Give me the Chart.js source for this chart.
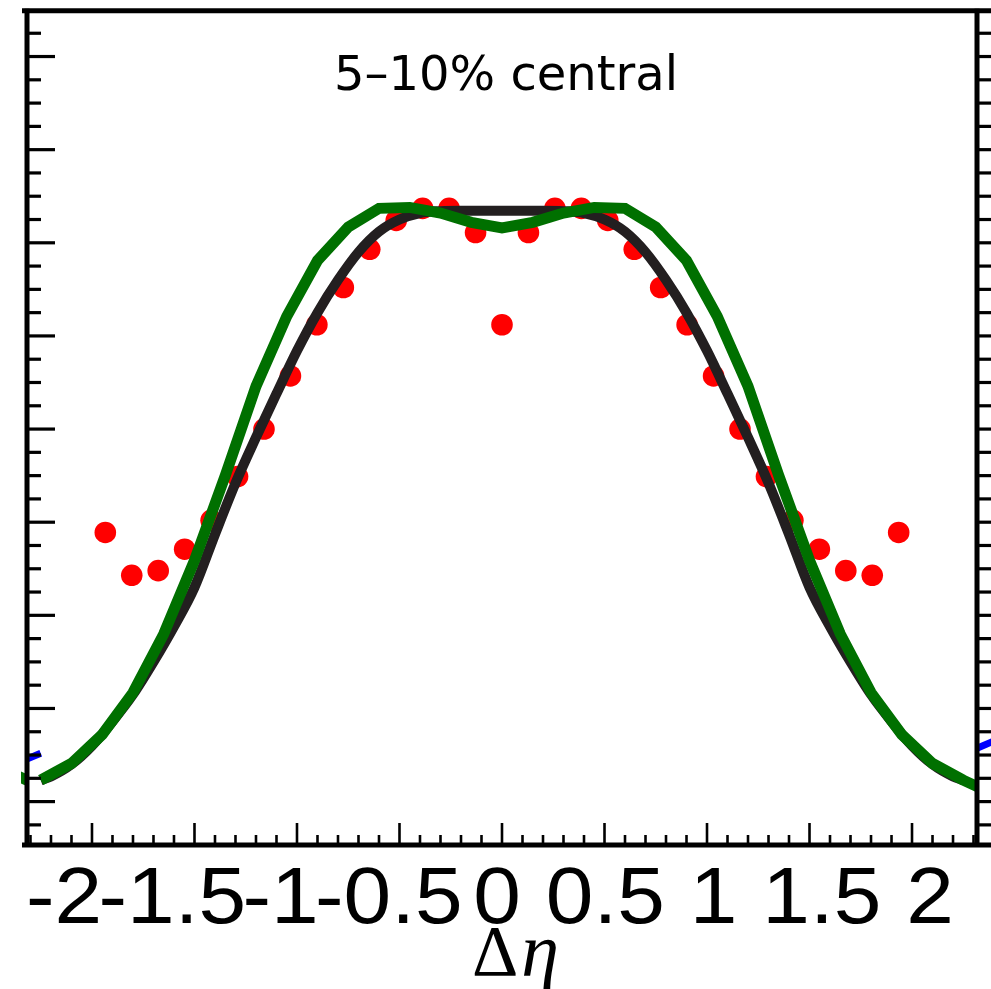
<!DOCTYPE html>
<html>
<head>
<meta charset="utf-8">
<script src="https://cdn.jsdelivr.net/npm/chart.js@4.4.1/dist/chart.umd.min.js"></script>
<style>
  body { margin: 0; background: #fff; }
  canvas { display: block; }
</style>
</head>
<body>
<canvas id="chart" width="991" height="989"></canvas>
<script>
// data points (red dots), 31 delta-eta bins
const dataEta = [-1.935, -1.806, -1.677, -1.548, -1.419, -1.290, -1.161, -1.032, -0.903, -0.774, -0.645, -0.516, -0.387, -0.258, -0.129, 0,
                 0.129, 0.258, 0.387, 0.516, 0.645, 0.774, 0.903, 1.032, 1.161, 1.290, 1.419, 1.548, 1.677, 1.806, 1.935];
const dataVals = [2.89, 2.43, 2.48, 2.71, 3.02, 3.49, 4.00, 4.57, 5.12, 5.52, 5.93, 6.24, 6.37, 6.37, 6.11, 5.12,
                  6.11, 6.37, 6.37, 6.24, 5.93, 5.52, 5.12, 4.57, 4.00, 3.49, 3.02, 2.71, 2.48, 2.43, 2.89];

// smooth black curve
const blackEta = [-2.25, -2.2, -2.1, -2.0, -1.9, -1.8, -1.7, -1.6, -1.5, -1.4, -1.3, -1.2, -1.1, -1.0, -0.9, -0.8, -0.7, -0.6, -0.5, -0.4, -0.3, -0.2, -0.1, 0,
                  0.1, 0.2, 0.3, 0.4, 0.5, 0.6, 0.7, 0.8, 0.9, 1.0, 1.1, 1.2, 1.3, 1.4, 1.5, 1.6, 1.7, 1.8, 1.9, 2.0, 2.1, 2.2, 2.25];
const blackVals = [0.23, 0.27, 0.40, 0.60, 0.86, 1.15, 1.50, 1.88, 2.30, 2.87, 3.42, 3.91, 4.38, 4.84, 5.25, 5.60, 5.90, 6.12, 6.25, 6.32, 6.34, 6.345, 6.345, 6.345,
                   6.345, 6.345, 6.34, 6.32, 6.25, 6.12, 5.90, 5.60, 5.25, 4.84, 4.38, 3.91, 3.42, 2.87, 2.30, 1.88, 1.50, 1.15, 0.86, 0.60, 0.40, 0.27, 0.23];

// green model curve
const greenEta = [-2.25, -2.1, -1.95, -1.8, -1.65, -1.5, -1.35, -1.2, -1.05, -0.9, -0.75, -0.6, -0.45, -0.3, -0.15, 0,
                  0.15, 0.3, 0.45, 0.6, 0.75, 0.9, 1.05, 1.2, 1.35, 1.5, 1.65, 1.8, 1.95, 2.1, 2.25, 2.4];
const greenVals = [0.23, 0.41, 0.72, 1.17, 1.80, 2.59, 3.50, 4.46, 5.21, 5.81, 6.17, 6.37, 6.38, 6.32, 6.22, 6.16,
                   6.22, 6.32, 6.38, 6.37, 6.17, 5.81, 5.21, 4.46, 3.50, 2.59, 1.80, 1.17, 0.72, 0.41, 0.23, 0.08];

// bits of the neighbouring panels that show at the edges
const blueLeftEta = [-2.40, -2.25];
const blueLeftVals = [0.38, 0.52];
const blueRightEta = [2.317, 2.42];
const blueRightVals = [0.573, 0.67];
const greenPrevEta = [-2.45, -2.317];
const greenPrevVals = [0.36, 0.23];

const xTickValues = [-2, -1.5, -1, -0.5, 0, 0.5, 1, 1.5, 2];
const xTickLabels = ['-2', '-1.5', '-1', '-0.5', '0', '0.5', '1', '1.5', '2'];
const panelTitle = '5\u201310% central';

function pts(xs, ys) {
    return xs.map((x, i) => ({ x: x, y: ys[i] }));
}

// frame, inward ticks, tick labels and texts
const framePlugin = {
    id: 'frame',
    afterDatasetsDraw(chart) {
        const ctx = chart.ctx;
        const a = chart.chartArea;
        const x = chart.scales.x, y = chart.scales.y, xl = chart.scales.xl;
        const W = chart.width;
        function seg(x1, y1, x2, y2) {
            ctx.beginPath(); ctx.moveTo(x1, y1); ctx.lineTo(x2, y2); ctx.stroke();
        }
        ctx.save();
        ctx.strokeStyle = '#000';
        ctx.lineCap = 'butt';

        // x ticks every 0.1, long every 0.5
        ctx.lineWidth = 2.6;
        for (let k = -23; k <= 23; k++) {
            const px = x.getPixelForValue(k / 10);
            seg(px, a.bottom, px, a.bottom - (k % 5 === 0 ? 22 : 10));
        }
        // y ticks every 0.25, long every 1
        ctx.lineWidth = 3.2;
        for (let k = -1; k <= 33; k++) {
            const py = y.getPixelForValue(k / 4);
            seg(a.left, py, a.left + (k % 4 === 0 ? 28 : 14), py);
            seg(a.right, py, a.right + 20, py);
        }
        // frame lines
        ctx.lineWidth = 5;
        seg(a.left - 5, a.top, W, a.top);
        seg(a.left - 5, a.bottom, W, a.bottom);
        seg(a.left, a.top - 2, a.left, a.bottom + 2);
        seg(a.right, a.top - 2, a.right, a.bottom + 2);

        ctx.fillStyle = '#000';
        // tick labels (drawn a bit wider, as in the original)
        ctx.font = '80px "Liberation Sans", Arial, sans-serif';
        ctx.textAlign = 'center';
        ctx.textBaseline = 'alphabetic';
        xTickValues.forEach((v, i) => {
            ctx.save();
            ctx.translate(xl.getPixelForValue(v), 923);
            ctx.scale(1.07, 1);
            ctx.fillText(xTickLabels[i], 0, 0);
            ctx.restore();
        });

        // axis title: upright Delta, italic eta
        ctx.textAlign = 'left';
        ctx.font = '72px "Liberation Serif", serif';
        const wD = ctx.measureText('\u0394').width;
        ctx.fillText('\u0394', 472, 975);
        ctx.font = 'italic 76px "Liberation Serif", serif';
        ctx.fillText('\u03b7', 472 + wD + 3, 976);

        // panel title
        ctx.textAlign = 'center';
        ctx.font = '48px "DejaVu Sans", sans-serif';
        ctx.fillText(panelTitle, 506, 90);
        ctx.restore();
    }
};

const ctx = document.getElementById('chart').getContext('2d');
const chart = new Chart(ctx, {
    type: 'line',
    data: {
        datasets: [
            {
                label: 'model',
                data: pts(greenEta, greenVals),
                borderColor: '#007000',
                borderWidth: 11,
                pointRadius: 0,
                tension: 0,
                borderJoinStyle: 'miter',
                clip: 0,
                order: 0
            },
            {
                label: 'fit',
                data: pts(blackEta, blackVals),
                borderColor: '#231f20',
                borderWidth: 10,
                pointRadius: 0,
                cubicInterpolationMode: 'monotone',
                clip: 0,
                order: 1
            },
            {
                label: 'data',
                data: pts(dataEta, dataVals),
                showLine: false,
                pointRadius: 10.8,
                pointBackgroundColor: '#ff0000',
                pointBorderWidth: 0,
                order: 2
            },
            {
                label: 'blue left',
                data: pts(blueLeftEta, blueLeftVals),
                borderColor: '#0000ff',
                borderWidth: 7,
                pointRadius: 0,
                clip: 0,
                order: 3
            },
            {
                label: 'blue right',
                data: pts(blueRightEta, blueRightVals),
                borderColor: '#0000ff',
                borderWidth: 7,
                pointRadius: 0,
                clip: false,
                order: 3
            },
            {
                label: 'green prev',
                data: pts(greenPrevEta, greenPrevVals),
                borderColor: '#007000',
                borderWidth: 11,
                pointRadius: 0,
                clip: { left: 6, top: 0, right: 0, bottom: 0 },
                order: 3
            }
        ]
    },
    options: {
        responsive: false,
        animation: false,
        devicePixelRatio: 1,
        layout: { padding: { left: 27, right: 14, top: 9, bottom: 144 } },
        plugins: {
            legend: { display: false },
            tooltip: { enabled: false }
        },
        scales: {
            x: { type: 'linear', min: -2.317, max: 2.317, display: false },
            y: { type: 'linear', min: -0.466, max: 8.491, display: false },
            // only used to place the tick labels
            xl: { type: 'linear', axis: 'x', min: -2.171, max: 2.217, display: false }
        }
    },
    plugins: [framePlugin]
});
</script>
</body>
</html>
